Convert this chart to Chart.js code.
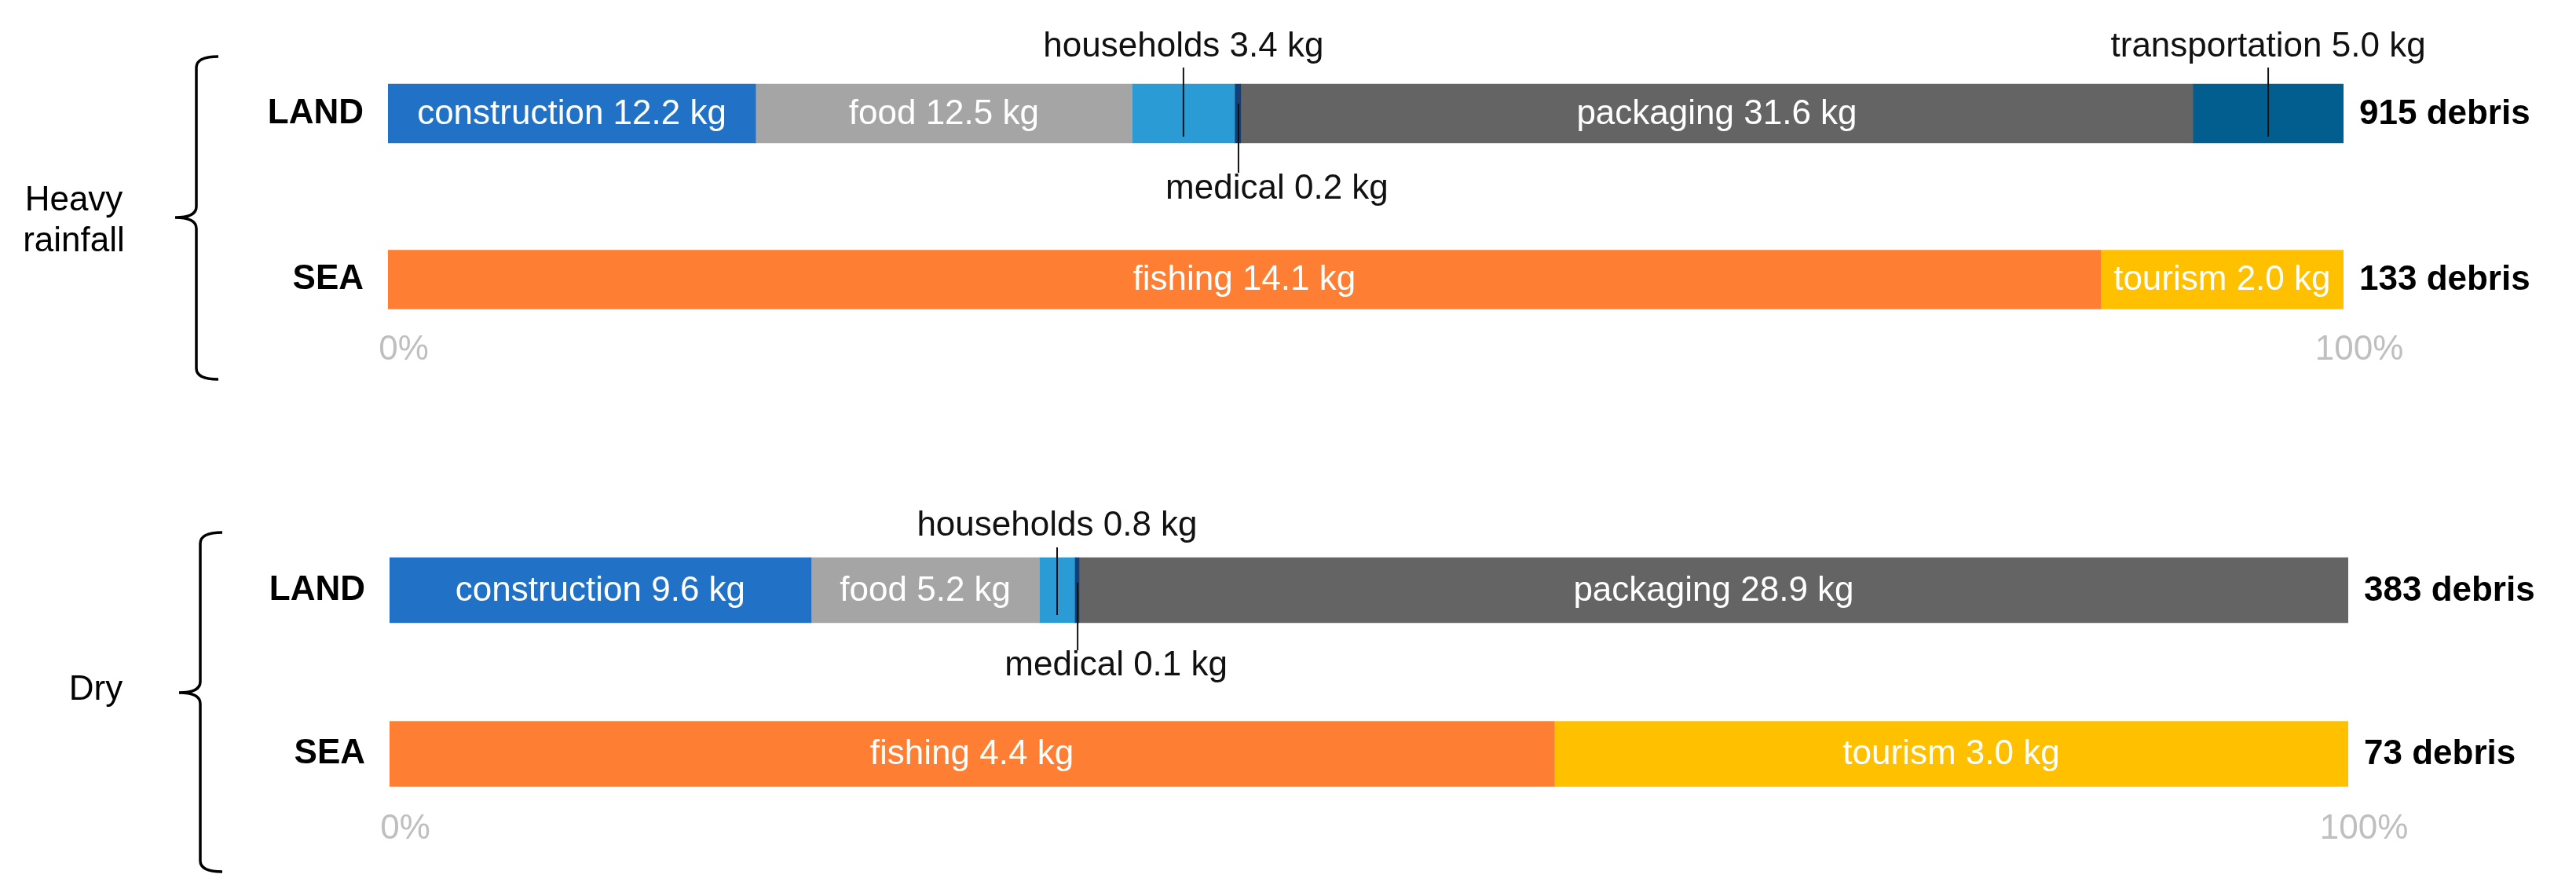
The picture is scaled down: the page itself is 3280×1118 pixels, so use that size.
<!DOCTYPE html>
<html>
<head>
<meta charset="utf-8">
<script src="https://cdn.jsdelivr.net/npm/chart.js@4.4.0/dist/chart.umd.min.js"></script>
<style>
  html, body { margin: 0; padding: 0; background: #fff; }
  #wrap { position: relative; width: 3280px; height: 1118px; }
  canvas { position: absolute; left: 0; }
</style>
</head>
<body>
<div id="wrap">
  <canvas id="chartHeavy" width="3280" height="559" style="top:0px"></canvas>
  <canvas id="chartDry" width="3280" height="559" style="top:559px"></canvas>
</div>
<script>
// data
var rows = ['LAND', 'SEA'];
var sources = ['construction', 'food', 'households', 'medical', 'packaging', 'transportation', 'fishing', 'tourism'];
var heavyLandKg = [12.2, 12.5, 3.4, 0.2, 31.6, 5.0, 0, 0];
var heavySeaKg = [0, 0, 0, 0, 0, 0, 14.1, 2.0];
var dryLandKg = [9.6, 5.2, 0.8, 0.1, 28.9, 0, 0, 0];
var drySeaKg = [0, 0, 0, 0, 0, 0, 4.4, 3.0];
var heavyDebris = [915, 133];
var dryDebris = [383, 73];
var xTicks = [0, 100];

var colors = ['#2171C6', '#A5A5A5', '#2B9BD6', '#123F78', '#646464', '#035E90', '#FE7F33', '#FFC000'];
var labelSpot = ['in', 'in', 'above', 'below', 'in', 'above', 'in', 'in'];
var FONT = "'Liberation Sans', Arial, Helvetica, sans-serif";

function toPct(kg) {
    var total = 0;
    for (var i = 0; i < kg.length; i++) total += kg[i];
    return kg.map(function (v) { return v > 0 ? v / total * 100 : null; });
}

var extras = {
    id: 'extras',
    afterDatasetsDraw: function (chart, args, opts) {
        var ctx = chart.ctx;
        var area = chart.chartArea;
        ctx.save();

        // segment labels
        chart.data.datasets.forEach(function (ds, i) {
            var meta = chart.getDatasetMeta(i);
            meta.data.forEach(function (bar, j) {
                var kg = ds.kg[j];
                if (!kg) return;
                var p = bar.getProps(['x', 'y', 'base', 'height'], true);
                var left = Math.min(p.x, p.base), right = Math.max(p.x, p.base);
                var cx = (left + right) / 2;
                var top = p.y - p.height / 2, bottom = p.y + p.height / 2;
                var text = ds.label + ' ' + kg.toFixed(1) + ' kg';
                ctx.font = '44px ' + FONT;
                ctx.textAlign = 'center';
                if (labelSpot[i] == 'in') {
                    ctx.fillStyle = '#fff';
                    ctx.textBaseline = 'middle';
                    ctx.fillText(text, cx, p.y + 1);
                } else if (labelSpot[i] == 'above') {
                    ctx.strokeStyle = '#111';
                    ctx.lineWidth = 2;
                    ctx.beginPath();
                    ctx.moveTo(cx, top - opts.lineUp);
                    ctx.lineTo(cx, bottom - opts.lineDown);
                    ctx.stroke();
                    ctx.fillStyle = '#111';
                    ctx.textBaseline = 'alphabetic';
                    ctx.fillText(text, cx, top - opts.textUp);
                } else {
                    ctx.strokeStyle = '#111';
                    ctx.lineWidth = 2;
                    ctx.beginPath();
                    ctx.moveTo(cx + 1, top + opts.belowStart);
                    ctx.lineTo(cx + 1, bottom + opts.belowEnd);
                    ctx.stroke();
                    ctx.fillStyle = '#111';
                    ctx.textBaseline = 'alphabetic';
                    ctx.fillText(text, cx + 50, bottom + opts.belowText);
                }
            });
        });

        // debris counts on the right
        var yScale = chart.scales.y;
        ctx.font = 'bold 44px ' + FONT;
        ctx.fillStyle = '#000';
        ctx.textAlign = 'left';
        ctx.textBaseline = 'middle';
        opts.debris.forEach(function (n, j) {
            ctx.fillText(n + ' debris', area.right + 20, yScale.getPixelForValue(j) + 1);
        });

        // brace
        var b = opts.brace;
        var r = 14;
        ctx.strokeStyle = '#000';
        ctx.lineWidth = 3.5;
        ctx.beginPath();
        ctx.moveTo(b.x + 28, b.top);
        ctx.quadraticCurveTo(b.x, b.top, b.x, b.top + r);
        ctx.lineTo(b.x, b.tip - r);
        ctx.quadraticCurveTo(b.x, b.tip, b.x - 27, b.tip);
        ctx.quadraticCurveTo(b.x, b.tip, b.x, b.tip + r);
        ctx.lineTo(b.x, b.bottom - r);
        ctx.quadraticCurveTo(b.x, b.bottom, b.x + 28, b.bottom);
        ctx.stroke();

        // group name
        ctx.font = '44px ' + FONT;
        ctx.textAlign = 'center';
        ctx.textBaseline = 'alphabetic';
        opts.group.forEach(function (line, k) {
            ctx.fillText(line, opts.groupX, opts.groupY + k * 52);
        });
        ctx.restore();
    }
};

function makeChart(id, landKg, seaKg, cfg) {
    var landPct = toPct(landKg);
    var seaPct = toPct(seaKg);
    var datasets = sources.map(function (s, i) {
        return {
            label: s,
            data: [landPct[i], seaPct[i]],
            kg: [landKg[i], seaKg[i]],
            backgroundColor: colors[i],
            borderWidth: 0,
            barThickness: cfg.thick
        };
    });
    return new Chart(document.getElementById(id), {
        type: 'bar',
        data: { labels: rows, datasets: datasets },
        options: {
            indexAxis: 'y',
            responsive: false,
            animation: false,
            devicePixelRatio: 1,
            layout: { padding: { left: 0, right: cfg.right, top: cfg.top, bottom: cfg.bottom } },
            scales: {
                x: {
                    stacked: true,
                    min: xTicks[0],
                    max: xTicks[1],
                    afterFit: function (scale) {
                        scale.height = 20;
                        scale.paddingLeft = 0;
                        scale.paddingRight = 0;
                        // tick labels sit above the axis box, so do not clip them to it
                        scale._computeLabelArea = function () { return null; };
                    },
                    afterBuildTicks: function (scale) {
                        scale.ticks = xTicks.map(function (v) { return { value: v }; });
                    },
                    grid: { display: false, drawTicks: false },
                    border: { display: false },
                    ticks: {
                        padding: cfg.tickPad,
                        labelOffset: 20,
                        color: '#BFBFBF',
                        font: { size: 44, family: FONT },
                        callback: function (v) { return v + '%'; }
                    }
                },
                y: {
                    stacked: true,
                    afterFit: function (scale) {
                        scale.width = cfg.left;
                        scale.paddingTop = 0;
                        scale.paddingBottom = 0;
                    },
                    grid: { display: false, drawTicks: false },
                    border: { display: false },
                    ticks: {
                        padding: 31,
                        color: '#000',
                        font: { size: 44, weight: 'bold', family: FONT }
                    }
                }
            },
            plugins: {
                legend: { display: false },
                tooltip: { enabled: false },
                extras: cfg.extras
            }
        },
        plugins: [extras]
    });
}

makeChart('chartHeavy', heavyLandKg, heavySeaKg, {
    thick: 75, left: 494, right: 296, top: 38.75, bottom: 77.25, tickPad: -42,
    extras: {
        debris: heavyDebris,
        group: ['Heavy', 'rainfall'], groupX: 94, groupY: 268,
        brace: { x: 250, top: 72, bottom: 483, tip: 277 },
        textUp: 35, lineUp: 21, lineDown: 8,
        belowStart: 25, belowEnd: 38, belowText: 71
    }
});

makeChart('chartDry', dryLandKg, drySeaKg, {
    thick: 83, left: 496, right: 290, top: 88.25, bottom: 33.75, tickPad: -35,
    extras: {
        debris: dryDebris,
        group: ['Dry'], groupX: 122, groupY: 332,
        brace: { x: 255, top: 119, bottom: 551, tip: 323 },
        textUp: 28, lineUp: 13, lineDown: 10,
        belowStart: 32, belowEnd: 35, belowText: 67
    }
});
</script>
</body>
</html>
